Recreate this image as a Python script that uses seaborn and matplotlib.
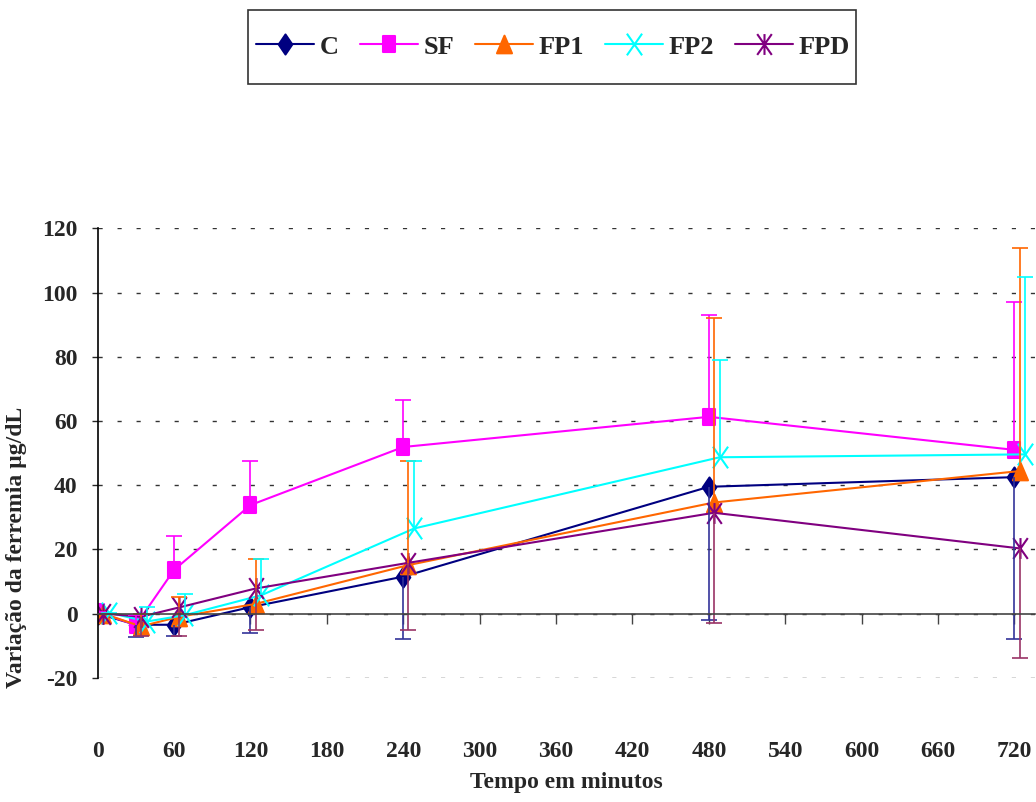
import numpy as np
import pandas as pd
import matplotlib
matplotlib.use("Agg")
import matplotlib.pyplot as plt
from matplotlib.path import Path
from matplotlib.patches import Rectangle
import seaborn as sns

# --- dados (variação média da ferremia e desvio) ---
tempos = [0, 30, 60, 120, 240, 480, 720]
series = ["C", "SF", "FP1", "FP2", "FPD"]

media_C = [0.0, -3.5, -3.5, 2.0, 11.5, 39.5, 42.5]
media_SF = [0.5, -3.6, 13.6, 33.8, 51.9, 61.3, 51.0]
media_FP1 = [0.0, -4.0, -1.0, 3.0, 15.1, 34.6, 44.4]
media_FP2 = [0.3, -2.5, -0.5, 5.7, 26.5, 48.7, 49.6]
media_FPD = [0.0, -1.0, 1.9, 7.8, 15.8, 31.4, 20.3]

dp_C = [0.0, 3.7, 3.5, 8.2, 19.5, 41.4, 50.5]
dp_SF = [0.0, 3.0, 10.7, 13.7, 14.6, 31.7, 46.0]
dp_FP1 = [0.0, 4.0, 6.0, 14.0, 32.4, 57.4, 69.6]
dp_FP2 = [0.0, 4.5, 6.5, 11.3, 21.0, 30.3, 55.4]
dp_FPD = [0.0, 6.0, 8.9, 12.8, 20.8, 34.3, 34.2]

medias = {"C": media_C, "SF": media_SF, "FP1": media_FP1, "FP2": media_FP2, "FPD": media_FPD}
desvios = {"C": dp_C, "SF": dp_SF, "FP1": dp_FP1, "FP2": dp_FP2, "FPD": dp_FPD}

# --- estilo ---
cores = {"C": "#000080", "SF": "#FF00FF", "FP1": "#FF6600", "FP2": "#00FFFF", "FPD": "#800080"}
cores_erro = {"C": "#333399", "SF": "#FF00FF", "FP1": "#FF6600", "FP2": "#00FFFF", "FPD": "#993366"}
lado_erro = {"C": "baixo", "SF": "cima", "FP1": "cima", "FP2": "cima", "FPD": "baixo"}
desloc = {"C": 0, "SF": 0, "FP1": 4, "FP2": 8.5, "FPD": 4}

M, L = Path.MOVETO, Path.LINETO
marcadores = {
    "C": Path([(0, 1), (0.68, 0), (0, -1), (-0.68, 0), (0, 1)], [M, L, L, L, Path.CLOSEPOLY]),
    "SF": Path([(-0.75, -1), (0.75, -1), (0.75, 1), (-0.75, 1), (-0.75, -1)], [M, L, L, L, Path.CLOSEPOLY]),
    "FP1": Path([(0, 1), (0.85, -1), (-0.85, -1), (0, 1)], [M, L, L, Path.CLOSEPOLY]),
    "FP2": Path([(-0.7, -1), (0.7, 1), (-0.7, 1), (0.7, -1)], [M, L, M, L]),
    "FPD": Path([(-0.7, -1), (0.7, 1), (-0.7, 1), (0.7, -1), (0, -1), (0, 1)], [M, L, M, L, M, L]),
}
tamanhos = {"C": 14.4, "SF": 12, "FP1": 12.7, "FP2": 15.6, "FPD": 15}

linhas = []
for s in series:
    for t, m, d in zip(tempos, medias[s], desvios[s]):
        linhas.append({"serie": s, "tempo": t + desloc[s], "media": m, "dp": d})
df = pd.DataFrame(linhas)

sns.set_style("white")
plt.rcParams["font.family"] = ["Liberation Serif", "DejaVu Serif"]
plt.rcParams["font.weight"] = "bold"
plt.rcParams["axes.unicode_minus"] = False

fig = plt.figure(figsize=(10.36, 8.02), dpi=100)
ax = fig.add_axes([0.0943, 0.155, 0.9046, 0.5601])

sns.lineplot(data=df, x="tempo", y="media", hue="serie", style="serie",
             hue_order=series, style_order=series, palette=cores,
             markers=marcadores, dashes=False, errorbar=None,
             lw=1.5, markersize=13, markeredgewidth=1.5, markeredgecolor=None,
             ax=ax)

for linha, s in zip(ax.lines[:len(series)], series):
    linha.set_markersize(tamanhos[s])

# barras de erro de um só lado (como no Excel)
for s in series:
    sub = df[df["serie"] == s]
    zeros = np.zeros(len(sub))
    if lado_erro[s] == "cima":
        yerr = [zeros, sub["dp"].values]
    else:
        yerr = [sub["dp"].values, zeros]
    _, caps, _ = ax.errorbar(sub["tempo"], sub["media"], yerr=yerr, fmt="none",
                             ecolor=cores_erro[s], elinewidth=1.2, capsize=5.5,
                             capthick=1.2, zorder=2)
    caps[0 if lado_erro[s] == "cima" else 1].set_visible(False)

ax.set_xlim(0, 736)
ax.set_ylim(-20, 120)
ax.set_xticks(np.arange(0, 721, 60))
ax.set_yticks(np.arange(-20, 121, 20))
ax.yaxis.grid(True, color="#333333", lw=1.0, linestyle=(0, (3, 10.7)))
ax.xaxis.grid(False)

for lado in ["top", "right"]:
    ax.spines[lado].set_visible(False)
ax.spines["bottom"].set_position(("data", 0))
ax.spines["bottom"].set_color("#444444")
ax.spines["left"].set_color("black")
for lado in ["bottom", "left"]:
    ax.spines[lado].set_linewidth(1.2)

ax.tick_params(axis="x", direction="out", length=7, width=1, pad=85,
               labelsize=17, bottom=True, color="#444444")
ax.tick_params(axis="y", direction="out", length=4.5, width=1, pad=10,
               labelsize=17, left=True)

ax.set_xlabel("Tempo em minutos", fontsize=17, fontweight="bold")
ax.xaxis.set_label_coords(0.5, -0.21)
ax.set_ylabel("Variação da ferremia µg/dL", fontsize=17, fontweight="bold")
ax.yaxis.set_label_coords(-0.075, 0.29)

# legenda numa linha, com moldura retangular à parte (mais alta que o texto)
sns.move_legend(ax, "center", bbox_to_anchor=(553 / 1036, 1 - 47 / 802),
                bbox_transform=fig.transFigure, ncol=5, title=None, frameon=False,
                fontsize=19, handlelength=2.2, handletextpad=0.2,
                columnspacing=0.8, borderpad=0.2, borderaxespad=0)
leg = ax.get_legend()
for h, t in zip(leg.legend_handles, leg.get_texts()):
    nome = t.get_text()
    h.set_markersize(tamanhos[nome])
    h.set_linewidth(1.5)
    h.set_markeredgewidth(1.5)

fig.add_artist(Rectangle((248 / 1036, 1 - 84 / 802), 608 / 1036, 74 / 802,
                         transform=fig.transFigure, fill=False,
                         edgecolor="#333333", linewidth=1.2))

fig.savefig("out.png", dpi=100)
